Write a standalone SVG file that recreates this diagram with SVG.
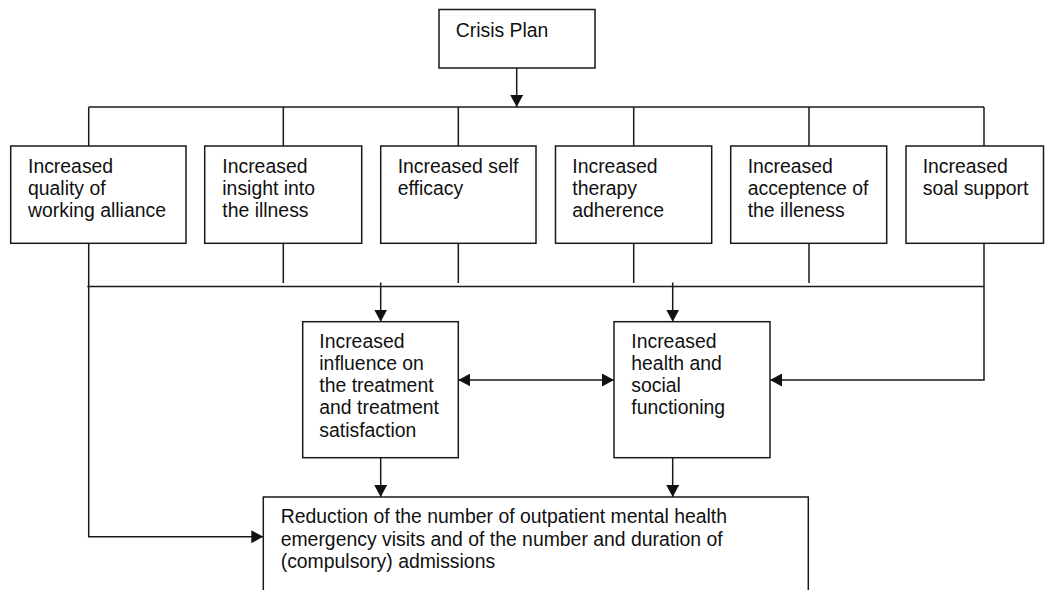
<svg xmlns="http://www.w3.org/2000/svg" width="1051" height="590" viewBox="0 0 1051 590">
<defs>
<style>
.box{fill:#fff;stroke:#1a1a1a;stroke-width:1.5}
.t{font-family:"Liberation Sans",Arial,Helvetica,sans-serif;font-size:19.4px;fill:#111}
.ln{fill:none;stroke:#1a1a1a;stroke-width:1.5}
</style>
<marker id="ah" viewBox="0 0 12 13" refX="12" refY="6.5" markerWidth="12" markerHeight="13" markerUnits="userSpaceOnUse" orient="auto-start-reverse">
<path d="M0,0 L12,6.5 L0,13 Z" fill="#111"/>
</marker>
</defs>
<rect width="1051" height="590" fill="#fff"/>
<g id="connectors">
<line class="ln" x1="516.7" y1="68" x2="516.7" y2="107" marker-end="url(#ah)"/>
<line class="ln" x1="88.7" y1="107" x2="984" y2="107"/>
<line class="ln" x1="88.7" y1="107" x2="88.7" y2="146"/>
<line class="ln" x1="283.3" y1="107" x2="283.3" y2="146"/>
<line class="ln" x1="458.3" y1="107" x2="458.3" y2="146"/>
<line class="ln" x1="633.7" y1="107" x2="633.7" y2="146"/>
<line class="ln" x1="809" y1="107" x2="809" y2="146"/>
<line class="ln" x1="984" y1="107" x2="984" y2="146"/>
<line class="ln" x1="87.3" y1="286.5" x2="984" y2="286.5"/>
<line class="ln" x1="283.3" y1="243.3" x2="283.3" y2="283"/>
<line class="ln" x1="458.3" y1="243.3" x2="458.3" y2="283"/>
<line class="ln" x1="633.7" y1="243.3" x2="633.7" y2="283"/>
<line class="ln" x1="809" y1="243.3" x2="809" y2="283"/>
<polyline class="ln" points="88.7,243.3 88.7,536.7 263.3,536.7" marker-end="url(#ah)"/>
<polyline class="ln" points="984,243.3 984,380 770,380" marker-end="url(#ah)"/>
<line class="ln" x1="380.7" y1="282.5" x2="380.7" y2="321.7" marker-end="url(#ah)"/>
<line class="ln" x1="672.7" y1="282.5" x2="672.7" y2="321.7" marker-end="url(#ah)"/>
<line class="ln" x1="458.3" y1="380" x2="614" y2="380" marker-start="url(#ah)" marker-end="url(#ah)"/>
<line class="ln" x1="380.7" y1="457.7" x2="380.7" y2="497" marker-end="url(#ah)"/>
<line class="ln" x1="672.7" y1="457.7" x2="672.7" y2="497" marker-end="url(#ah)"/>
</g>
<g id="crisis-plan">
<rect class="box" x="439" y="9.5" width="156" height="58.5"/>
<text class="t" x="455.7" y="36.7">Crisis Plan</text>
</g>
<g id="working-alliance">
<rect class="box" x="10.7" y="146" width="175.3" height="97.3"/>
<text class="t" x="28" y="173">Increased</text>
<text class="t" x="28" y="195">quality of</text>
<text class="t" x="28" y="217">working alliance</text>
</g>
<g id="insight">
<rect class="box" x="204.7" y="146" width="157" height="97.3"/>
<text class="t" x="222.3" y="173">Increased</text>
<text class="t" x="222.3" y="195">insight into</text>
<text class="t" x="222.3" y="217">the illness</text>
</g>
<g id="self-efficacy">
<rect class="box" x="380.7" y="146" width="155.3" height="97.3"/>
<text class="t" x="397.7" y="173">Increased self</text>
<text class="t" x="397.7" y="195">efficacy</text>
</g>
<g id="therapy-adherence">
<rect class="box" x="555.5" y="146" width="156.2" height="97.3"/>
<text class="t" x="572.3" y="173">Increased</text>
<text class="t" x="572.3" y="195">therapy</text>
<text class="t" x="572.3" y="217">adherence</text>
</g>
<g id="acceptance">
<rect class="box" x="730.7" y="146" width="156" height="97.3"/>
<text class="t" x="747.7" y="173">Increased</text>
<text class="t" x="747.7" y="195">acceptence of</text>
<text class="t" x="747.7" y="217">the illeness</text>
</g>
<g id="social-support">
<rect class="box" x="906" y="146" width="137.5" height="97.3"/>
<text class="t" x="922.7" y="173">Increased</text>
<text class="t" x="922.7" y="195">soal support</text>
</g>
<g id="influence">
<rect class="box" x="302.7" y="321.7" width="155.6" height="136"/>
<text class="t" x="319.3" y="347.7">Increased</text>
<text class="t" x="319.3" y="370">influence on</text>
<text class="t" x="319.3" y="392.2">the treatment</text>
<text class="t" x="319.3" y="414.4">and treatment</text>
<text class="t" x="319.3" y="436.6">satisfaction</text>
</g>
<g id="health">
<rect class="box" x="614" y="321.7" width="156" height="136"/>
<text class="t" x="631.3" y="347.7">Increased</text>
<text class="t" x="631.3" y="370">health and</text>
<text class="t" x="631.3" y="392.2">social</text>
<text class="t" x="631.3" y="414.4">functioning</text>
</g>
<g id="reduction">
<rect class="box" x="263.3" y="497" width="545" height="100"/>
<text class="t" x="280.7" y="523.3">Reduction of the number of outpatient mental health</text>
<text class="t" x="280.7" y="545.8">emergency visits and of the number and duration of</text>
<text class="t" x="280.7" y="568.3">(compulsory) admissions</text>
</g>
</svg>
